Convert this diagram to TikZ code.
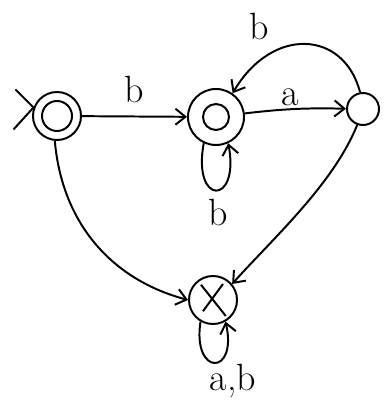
\documentclass[tikz,border=0pt]{standalone}
\usetikzlibrary{arrows.meta}
\begin{document}
\begin{tikzpicture}[>={Straight Barb[length=2.5mm,width=4mm]}, line width=1.4pt,
		state/.style={circle, draw, inner sep=0pt},
		inner/.style={path picture={\draw[line width=1.4pt] (path picture bounding box.center) circle (#1);}},
		cross/.style={path picture={\draw[line width=1.4pt] ([shift={(-0.3,0.38)}]path picture bounding box.center) -- ++(0.62,-0.78) ([shift={(0.25,0.4)}]path picture bounding box.center) -- ++(-0.5,-0.68);}},
		lbl/.style={font=\fontsize{27}{30}\selectfont}]
		\useasboundingbox (0,0) rectangle (9.725,10.15);
		
		% states
		\node[state, minimum size=1.2cm, inner=0.375] (q0) at (1.425,7.25) {};
		\node[state, minimum size=1.4cm, inner=0.325] (q1) at (5.4,7.225) {};
		\node[state, minimum size=0.8cm] (q2) at (9.075,7.425) {};
		\node[state, minimum size=1.2cm, cross] (q3) at (5.325,2.65) {};
		
		% start
		\draw (q0.160) -- ++(-0.45,0.45);
		\draw (q0.160) -- ++(-0.5,-0.55);
		
		% transitions
		\draw[->] (q0) -- (q1) node[lbl, midway, above=2mm] {b};
		\draw[->] (q1) to[bend left=4] (q2);
		\node[lbl] (la) at (7.25,7.72) {a};
		\draw[->] (q2.100) .. controls (8.6,9.4) and (6.8,9.5) .. (q1.55);
		\node[lbl] (lb) at (6.475,9.5) {b};
		\draw[->] (q1.245) .. controls (4.8,5.0) and (6.0,5.0) .. (q1.295);
		\node[lbl] (lbb) at (5.45,4.85) {b};
		\draw[->] (q0.265) to[out=-85, in=165] (q3.west);
		\draw[->] (q2.250) to[out=-112, in=48, looseness=0.8] (q3.40);
		\draw[->] (q3.240) .. controls (4.8,0.74) and (5.95,0.74) .. (q3.300);
		\node[lbl] (lab) at (5.825,0.62) {a,b};
\end{tikzpicture}
\end{document}
